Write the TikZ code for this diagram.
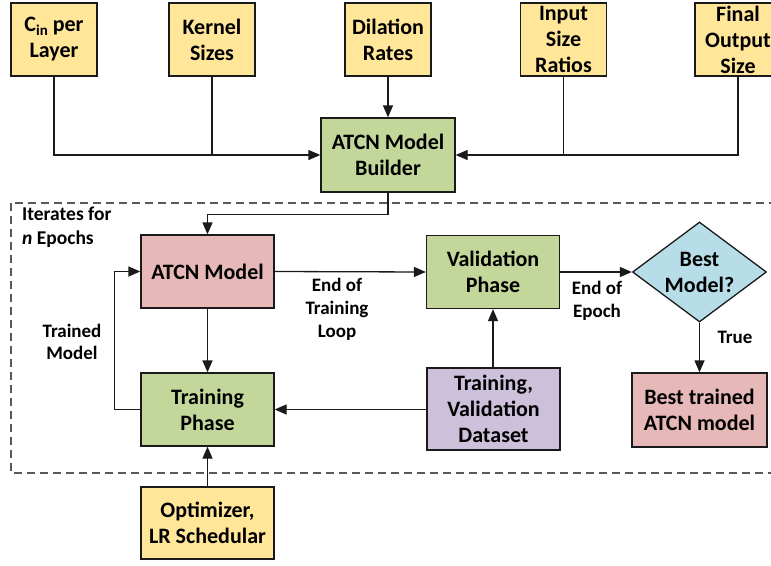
\documentclass[tikz,border=0pt]{standalone}
\usepackage{fontspec}
\setmainfont{Carlito}
\usetikzlibrary{arrows.meta,shapes.geometric}
\definecolor{cyel}{HTML}{FFE699}
\definecolor{cgrn}{HTML}{C4D79B}
\definecolor{cpnk}{HTML}{E6B9B8}
\definecolor{cblu}{HTML}{B7DEE8}
\definecolor{cpur}{HTML}{CCC0DA}
\definecolor{cline}{HTML}{1A1A1A}
\begin{document}
\begin{tikzpicture}[x=1pt,y=-1pt,
  every node/.style={font=\fontsize{22}{26}\selectfont\bfseries, text=black},
  box/.style={draw=cline, line width=1.3pt, minimum width=#1, align=center, inner sep=0pt},
  box/.default=86pt,
  topbox/.style={box=86pt, fill=cyel, minimum height=73pt},
  midbox/.style={box=133pt, minimum height=73pt},
  lbl/.style={align=center, inner sep=0pt, font=\fontsize{19}{23}\selectfont\bfseries},
  arr/.style={draw=cline, line width=1.3pt, -{Triangle[length=12pt,width=10pt]}},
  ln/.style={draw=cline, line width=1.3pt},
]
\clip (0,0) rectangle (771,565);
\fill[white] (0,0) rectangle (771,565);
% dashed region
\draw[draw=black!65, line width=1.3pt, dash pattern=on 8pt off 5pt] (11,203) rectangle (800,473);
% top inputs
\node[topbox] (cin) at (54,39.5) {C\raisebox{-0.3ex}{\fontsize{15}{15}\selectfont in} per\\Layer};
\node[topbox] (kern) at (212,39.5) {Kernel\\Sizes};
\node[topbox] (dil) at (388,39.5) {Dilation\\Rates};
\node[topbox] (inp) at (563.5,39.5) {Input\\Size\\Ratios};
\node[topbox] (fin) at (738,39.5) {Final\\Output\\Size};
% builder
\node[box=134pt, fill=cgrn, minimum height=74pt] (build) at (388,155) {ATCN Model\\Builder};
% inner boxes
\node[midbox, fill=cpnk] (atcn) at (207.5,271.5) {ATCN Model};
\node[midbox, fill=cgrn] (train) at (207.5,409.5) {Training\\Phase};
\node[midbox, fill=cgrn] (val) at (493,272) {Validation\\Phase};
\node[midbox, fill=cpur, minimum height=82pt] (data) at (493.5,409) {Training,\\Validation\\Dataset};
\node[diamond, draw=cline, line width=1.3pt, fill=cblu, aspect=1.34, inner sep=0pt,
      minimum width=134pt, minimum height=100pt, align=center] (best) at (699.5,272) {Best\\Model?};
\node[midbox, fill=cpnk, minimum height=74pt, box=135pt] (out) at (699.5,410) {Best trained\\ATCN model};
\node[midbox, fill=cyel, minimum height=72pt] (opt) at (207.5,523) {Optimizer,\\LR Schedular};
% labels
\node[lbl, align=left, anchor=west, font=\fontsize{19.5}{24}\selectfont\bfseries] (iter) at (22,227) {Iterates for\\\textit{n} Epochs};
\node[lbl, font=\fontsize{19}{22.5}\selectfont\bfseries] (trlbl) at (72,342) {Trained\\Model};
\node[lbl] (eotl) at (337,309) {End of\\Training\\Loop};
\node[lbl] (eoe) at (597,300.5) {End of\\Epoch};
\node[lbl] (truel) at (735,337) {True};
% connectors
\draw[arr] (cin.south) |- (build.west);
\draw[ln] (kern.south) -- (kern.south |- build.west);
\draw[arr] (dil.south) -- (build.north);
\draw[arr] (fin.south) |- (build.east);
\draw[ln] (inp.south) -- (inp.south |- build.east);
\draw[arr] (build.south) -- ++(0,22) -| (atcn.north);
\draw[arr] (atcn.south) -- (train.north);
\draw[arr] (train.west) -- ++(-26,0) |- (atcn.west);
\draw[arr] (atcn.east) -- (val.west);
\draw[arr] (val.east) -- (best.west);
\draw[arr] (best.south) -- (out.north);
\draw[arr] (data.north -| val.south) -- (val.south);
\draw[arr] (data.west |- train.east) -- (train.east);
\draw[arr] (opt.north) -- (train.south);
\end{tikzpicture}
\end{document}
